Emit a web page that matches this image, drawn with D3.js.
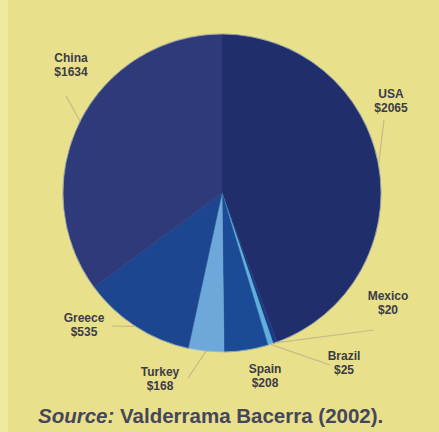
<!DOCTYPE html>
<html>
<head>
<meta charset="utf-8">
<script src="https://cdn.jsdelivr.net/npm/d3@7"></script>
<style>
  body { margin: 0; background: #e9e08c; }
  svg { display: block; }
</style>
</head>
<body>
<svg width="439" height="432"></svg>
<script>
// data
const countries = ['USA', 'Mexico', 'Brazil', 'Spain', 'Turkey', 'Greece', 'China'];
const values = [2065, 20, 25, 208, 168, 535, 1634];
const valueLabels = ['$2065', '$20', '$25', '$208', '$168', '$535', '$1634'];

const colors = ['#202e6c', '#1d3a86', '#5fb0dc', '#1b4b97', '#6ea8db', '#1d4690', '#2f3a7a'];

// label placement (text position + elbow point of leader line)
const labelPos = {
  USA: { x: 391, y: 98, elbow: [384, 120] },
  Mexico: { x: 388, y: 300, elbow: [374, 330] },
  Brazil: { x: 344, y: 360, elbow: [330, 365] },
  Spain: { x: 265, y: 373, elbow: null },
  Turkey: { x: 160, y: 376, elbow: [188, 378] },
  Greece: { x: 84, y: 322, elbow: [112, 326] },
  China: { x: 71, y: 62, elbow: [66, 96] }
};

function drawPie() {
  const svg = d3.select('svg');
  const cx = 222, cy = 193, r = 159;

  // faint lighter strip on the left edge, like the scanned page
  svg.append('rect').attr('x', 0).attr('y', 0).attr('width', 8).attr('height', 432).attr('fill', '#f0ea9e');

  const g = svg.append('g').attr('transform', `translate(${cx},${cy})`);

  const data = countries.map((c, i) => ({ name: c, value: values[i], label: valueLabels[i], color: colors[i] }));

  const pie = d3.pie().sort(null).value(d => d.value);
  const arc = d3.arc().innerRadius(0).outerRadius(r);
  const edgeArc = d3.arc().innerRadius(r).outerRadius(r);

  const arcs = pie(data);

  g.selectAll('path.slice')
    .data(arcs)
    .enter().append('path')
    .attr('class', 'slice')
    .attr('d', arc)
    .attr('fill', d => d.data.color)
    .attr('stroke', d => d.data.color)
    .attr('stroke-width', 0.5);

  // thin pale rim
  g.append('circle').attr('r', r).attr('fill', 'none').attr('stroke', '#c8d6c0').attr('stroke-width', 1).attr('opacity', 0.6);

  // leader lines from slice edge to labels
  const lineGen = d3.line();
  arcs.forEach(d => {
    const p = labelPos[d.data.name];
    if (!p.elbow) return;
    const e = edgeArc.centroid(d);
    const edge = [e[0] + cx, e[1] + cy];
    svg.append('path')
      .attr('d', lineGen([edge, p.elbow]))
      .attr('fill', 'none')
      .attr('stroke', '#c4ba86')
      .attr('stroke-width', 1.2);
  });

  const labels = svg.selectAll('text.lbl')
    .data(arcs)
    .enter().append('text')
    .attr('class', 'lbl')
    .attr('x', d => labelPos[d.data.name].x)
    .attr('y', d => labelPos[d.data.name].y)
    .attr('text-anchor', 'middle')
    .attr('font-family', 'Liberation Sans, Arial, sans-serif')
    .attr('font-weight', 'bold')
    .attr('font-size', 12)
    .attr('fill', '#3c3c46');

  labels.append('tspan').attr('x', d => labelPos[d.data.name].x).attr('dy', 0).text(d => d.data.name);
  labels.append('tspan').attr('x', d => labelPos[d.data.name].x).attr('dy', 14).text(d => d.data.label);

  const src = svg.append('text')
    .attr('x', 38)
    .attr('y', 423)
    .attr('font-family', 'Liberation Sans, Arial, sans-serif')
    .attr('font-size', 20.5)
    .attr('font-weight', 'bold')
    .attr('fill', '#46465a');
  src.append('tspan').attr('font-style', 'italic').text('Source:');
  src.append('tspan').text(' Valderrama Bacerra (2002).');
}

drawPie();
</script>
</body>
</html>
